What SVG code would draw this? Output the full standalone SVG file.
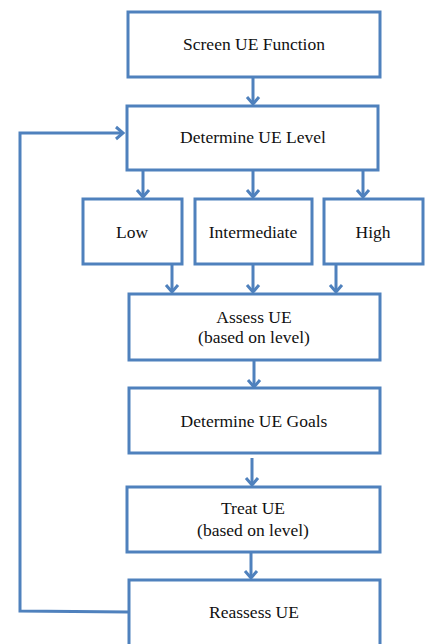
<svg xmlns="http://www.w3.org/2000/svg" width="425" height="644" viewBox="0 0 425 644">
<style>
.box{fill:#fff;stroke:#4F81BD;stroke-width:3}
.t{font-family:'Liberation Serif','DejaVu Serif',serif;font-size:17.5px;fill:#111;text-anchor:middle}
.c{fill:none;stroke:#4F81BD;stroke-width:3}
</style>
<defs>
<marker id="ah" markerUnits="userSpaceOnUse" markerWidth="16" markerHeight="16" viewBox="-8 -8 16 16" refX="0" refY="0" orient="auto">
<path d="M-7,-6 L0,0 L-7,6" fill="none" stroke="#4F81BD" stroke-width="3"/>
</marker>
</defs>
<rect width="425" height="644" fill="#fff"/>
<g id="connectors">
<line class="c" x1="253" y1="78" x2="253" y2="104" marker-end="url(#ah)"/>
<line class="c" x1="143" y1="171" x2="143" y2="197" marker-end="url(#ah)"/>
<line class="c" x1="253" y1="171" x2="253" y2="197" marker-end="url(#ah)"/>
<line class="c" x1="363" y1="171" x2="363" y2="197" marker-end="url(#ah)"/>
<line class="c" x1="172" y1="265" x2="172" y2="292" marker-end="url(#ah)"/>
<line class="c" x1="253" y1="265" x2="253" y2="292" marker-end="url(#ah)"/>
<line class="c" x1="336" y1="265" x2="336" y2="292" marker-end="url(#ah)"/>
<line class="c" x1="254" y1="361" x2="254" y2="387" marker-end="url(#ah)"/>
<line class="c" x1="252" y1="458" x2="252" y2="485" marker-end="url(#ah)"/>
<line class="c" x1="251" y1="553" x2="251" y2="578" marker-end="url(#ah)"/>
<polyline class="c" points="128,612 20,611 20,133 123,133" marker-end="url(#ah)"/>
</g>
<g id="n1"><rect class="box" x="128" y="12" width="252" height="65"/><text class="t" x="254" y="50">Screen UE Function</text></g>
<g id="n2"><rect class="box" x="127" y="106" width="251" height="64"/><text class="t" x="253" y="143">Determine UE Level</text></g>
<g id="n3"><rect class="box" x="83" y="199" width="99" height="65"/><text class="t" x="132" y="238">Low</text></g>
<g id="n4"><rect class="box" x="195" y="199" width="117" height="65"/><text class="t" x="253" y="238">Intermediate</text></g>
<g id="n5"><rect class="box" x="324" y="199" width="99" height="65"/><text class="t" x="373" y="238">High</text></g>
<g id="n6"><rect class="box" x="129" y="294" width="251" height="66"/><text class="t" x="254" y="323">Assess UE</text><text class="t" x="254" y="343">(based on level)</text></g>
<g id="n7"><rect class="box" x="129" y="388" width="251" height="65"/><text class="t" x="254" y="427">Determine UE Goals</text></g>
<g id="n8"><rect class="box" x="127" y="487" width="253" height="65"/><text class="t" x="253" y="514">Treat UE</text><text class="t" x="253" y="536">(based on level)</text></g>
<g id="n9"><rect class="box" x="129" y="580" width="251" height="80"/><text class="t" x="254" y="618">Reassess UE</text></g>
</svg>
